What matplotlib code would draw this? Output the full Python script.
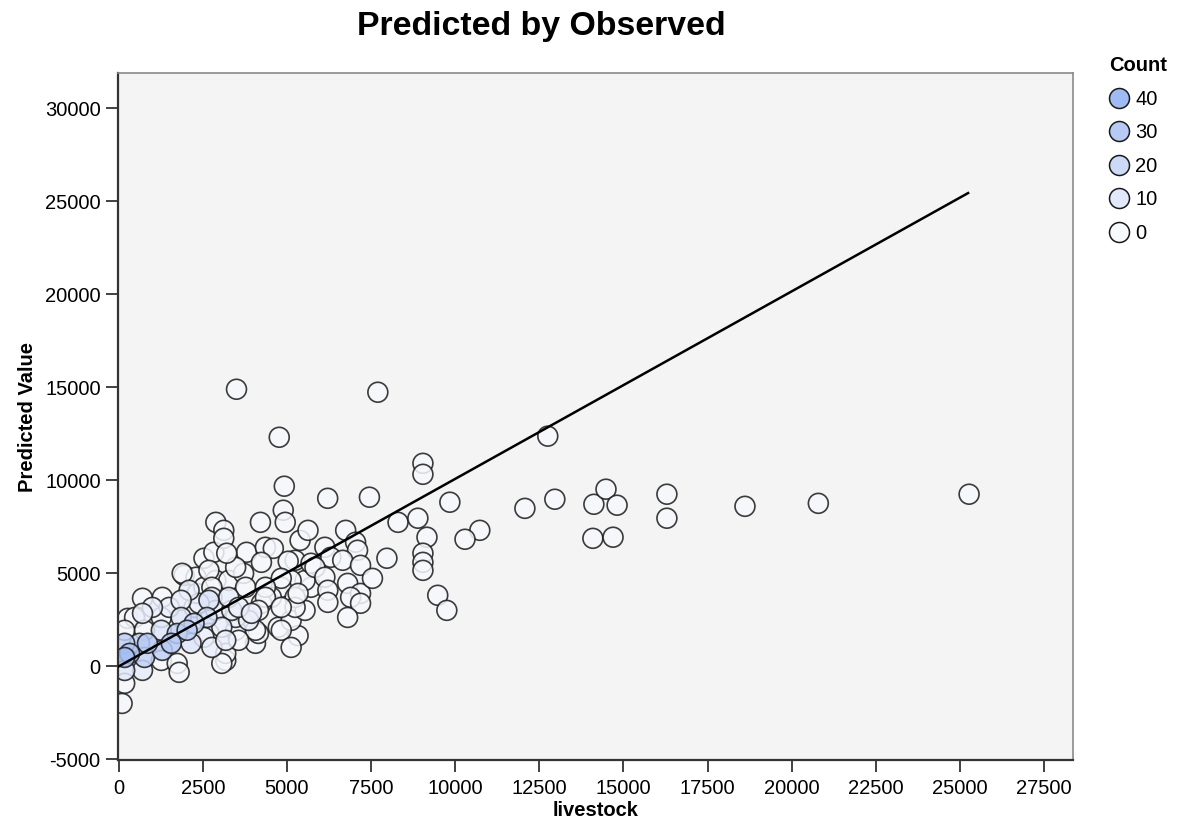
import numpy as np
import matplotlib.pyplot as plt
from matplotlib.colors import LinearSegmentedColormap
from matplotlib.lines import Line2D

title = "Predicted by Observed"
x_label = "livestock"
y_label = "Predicted Value"

# bins that hold many cases (blue), with their counts
dense_obs = [177, 324, 177, 766, 854, 620, 1296, 1561, 1738, 2032, 2238, 2621,
             2680, 2150, 1266, 1855, 177, 707]
dense_pred = [480, 700, 1240, 480, 1240, 1240, 860, 1240, 1770, 1940, 2310, 2630,
              3550, 1240, 1940, 2630, -220, -215]
dense_count = [38, 32, 26, 24, 30, 22, 26, 30, 24, 26, 20, 16,
               12, 12, 12, 10, 10, 8]

# moderately crowded bins
mid_obs = [2768, 3475, 3858, 2886, 3357, 3269, 2385, 3063, 1502, 1001, 707, 2533,
           2768, 3181, 3563, 3946, 2091, 1855]
mid_pred = [3710, 2630, 2470, 3010, 3010, 3710, 3390, 2100, 3170, 3170, 2850, 1560,
            1020, 1400, 3170, 2850, 4090, 3550]
mid_count = 6

# single cases
single_obs = [
    707, 1296, 1944, 2297, 2533, 265, 471, 177, 177, 100, 766, 1266, 1266, 1738,
    1796, 2238, 2327, 2533, 3181, 4064, 4152, 4741, 5330, 5124, 5537, 5713, 5537,
    5124, 4830, 4535, 4241, 2886, 1885, 2827, 3269, 3711, 3799, 4359, 4594, 5242,
    5389, 5713, 2886, 3122, 3122, 4211, 4889, 4948, 5625, 3475, 4241, 5036, 4830,
    2680, 2768, 3770, 4359, 4359, 5242, 5242, 4830, 4152, 2680, 3475, 4064, 4830,
    3181, 3063, 3563, 3210, 6744, 7039, 7097, 6126, 6302, 5831, 6656, 7186, 6126,
    6803, 6214, 5330, 7186, 6891, 7186, 6214, 6803, 5124,
    # outliers
    7700, 3500, 4770, 12750, 9040, 9040, 4920, 6210, 7450, 9840, 10730, 10290,
    8300, 8890, 9160, 9040, 9040, 9040, 9480, 9750, 7970, 7540, 12070, 12960,
    14120, 14480, 14810, 14090, 14690, 16290, 16290, 18610, 20790, 25270,
]
single_pred = [
    3660, 3710, 4890, 4790, 5810, 2580, 2630, 1940, -910, -1990, 1940, 2630, 320, 160,
    -320, 3170, 3920, 4250, 320, 1240, 1770, 2100, 1650, 2470, 3010, 4250, 4620,
    4620, 4250, 3710, 3390, 4620, 5000, 6130, 4620, 5000, 6130, 6400, 6340, 5700,
    6770, 5540, 7740, 7310, 6880, 7740, 8390, 7740, 7310, 5320, 5590, 5650, 4730,
    5160, 4250, 4250, 4250, 3710, 3710, 3170, 3170, 3010, 1770, 1940, 1940, 1940,
    700, 160, 1400, 6080, 7310, 6670, 6240, 6400, 5860, 5320, 5700, 5430, 4790,
    4460, 4090, 3920, 3920, 3710, 3390, 3440, 2630, 1020,
    # outliers
    14730, 14890, 12310, 12370, 10910, 10320, 9680, 9030, 9090, 8820, 7310, 6830,
    7740, 7960, 6940, 6080, 5590, 5160, 3820, 3010, 5810, 4730, 8490, 8980,
    8710, 9520, 8660, 6880, 6940, 9250, 7960, 8600, 8760, 9250,
]
single_count = 1

# fit line
fit_obs = [0, 25240]
fit_pred = [0, 25430]

legend_counts = [40, 30, 20, 10, 0]
x_ticks = np.arange(0, 27501, 2500)
y_ticks = np.arange(-5000, 30001, 5000)

FONT = "Liberation Sans"


def main():
    obs = np.concatenate([single_obs, mid_obs, dense_obs])
    pred = np.concatenate([single_pred, mid_pred, dense_pred])
    cnt = np.concatenate([np.full(len(single_obs), single_count),
                          np.full(len(mid_obs), mid_count),
                          dense_count])
    order = np.argsort(cnt, kind="stable")

    cmap = LinearSegmentedColormap.from_list("cnt", ["#f8f9fd", "#a0bbf3"])

    fig = plt.figure(figsize=(11.77, 8.26), dpi=100)
    ax = fig.add_axes([0.1003, 0.0799, 0.8114, 0.8317])
    ax.set_facecolor("#f4f4f4")

    ax.scatter(obs[order], pred[order], c=cnt[order], cmap=cmap, vmin=0, vmax=40,
               s=205, edgecolors="#1a1a1a", linewidths=1.2, alpha=0.85, zorder=2)
    ax.plot(fit_obs, fit_pred, color="black", lw=1.8, zorder=3)

    ax.set_xlim(-20, 28360)
    ax.set_ylim(-5030, 31880)
    ax.set_xticks(x_ticks, labels=[str(t) for t in x_ticks], family=FONT, fontsize=14.5)
    ax.set_yticks(y_ticks, labels=[str(t) for t in y_ticks], family=FONT, fontsize=14.5)
    ax.tick_params(direction="out", length=8.5, width=1.3, color="#333333")
    ax.tick_params(axis="x", pad=5)
    ax.tick_params(axis="y", pad=4)

    for side in ["left", "bottom"]:
        ax.spines[side].set_color("#333333")
        ax.spines[side].set_linewidth(1.6)
    for side in ["top", "right"]:
        ax.spines[side].set_color("#8a8a8a")
        ax.spines[side].set_linewidth(1.2)

    label_font = dict(family=FONT, weight="bold", fontsize=14.5)
    ax.set_xlabel(x_label, labelpad=2, **label_font)
    ax.set_ylabel(y_label, labelpad=6, **label_font)

    fig.text(541 / 1177, 1 - 27 / 826, title, ha="center", va="center",
             family=FONT, weight="bold", fontsize=24.4)

    # Legend
    handles = [Line2D([], [], ls="", marker="o", ms=14.4, mfc=cmap(c / 40),
                      mec="#1a1a1a", mew=1.1) for c in legend_counts]
    fig.legend(handles, [str(c) for c in legend_counts], title="Count",
               loc="upper left", bbox_to_anchor=(1099 / 1177, 1 - 46 / 826),
               frameon=False, prop={"family": FONT, "size": 14.5},
               title_fontproperties={"family": FONT, "weight": "bold", "size": 14.5},
               handletextpad=0.3, labelspacing=0.72, borderpad=0,
               handlelength=1.0, alignment="left")

    fig.savefig("out.png", dpi=100)


if __name__ == "__main__":
    main()
